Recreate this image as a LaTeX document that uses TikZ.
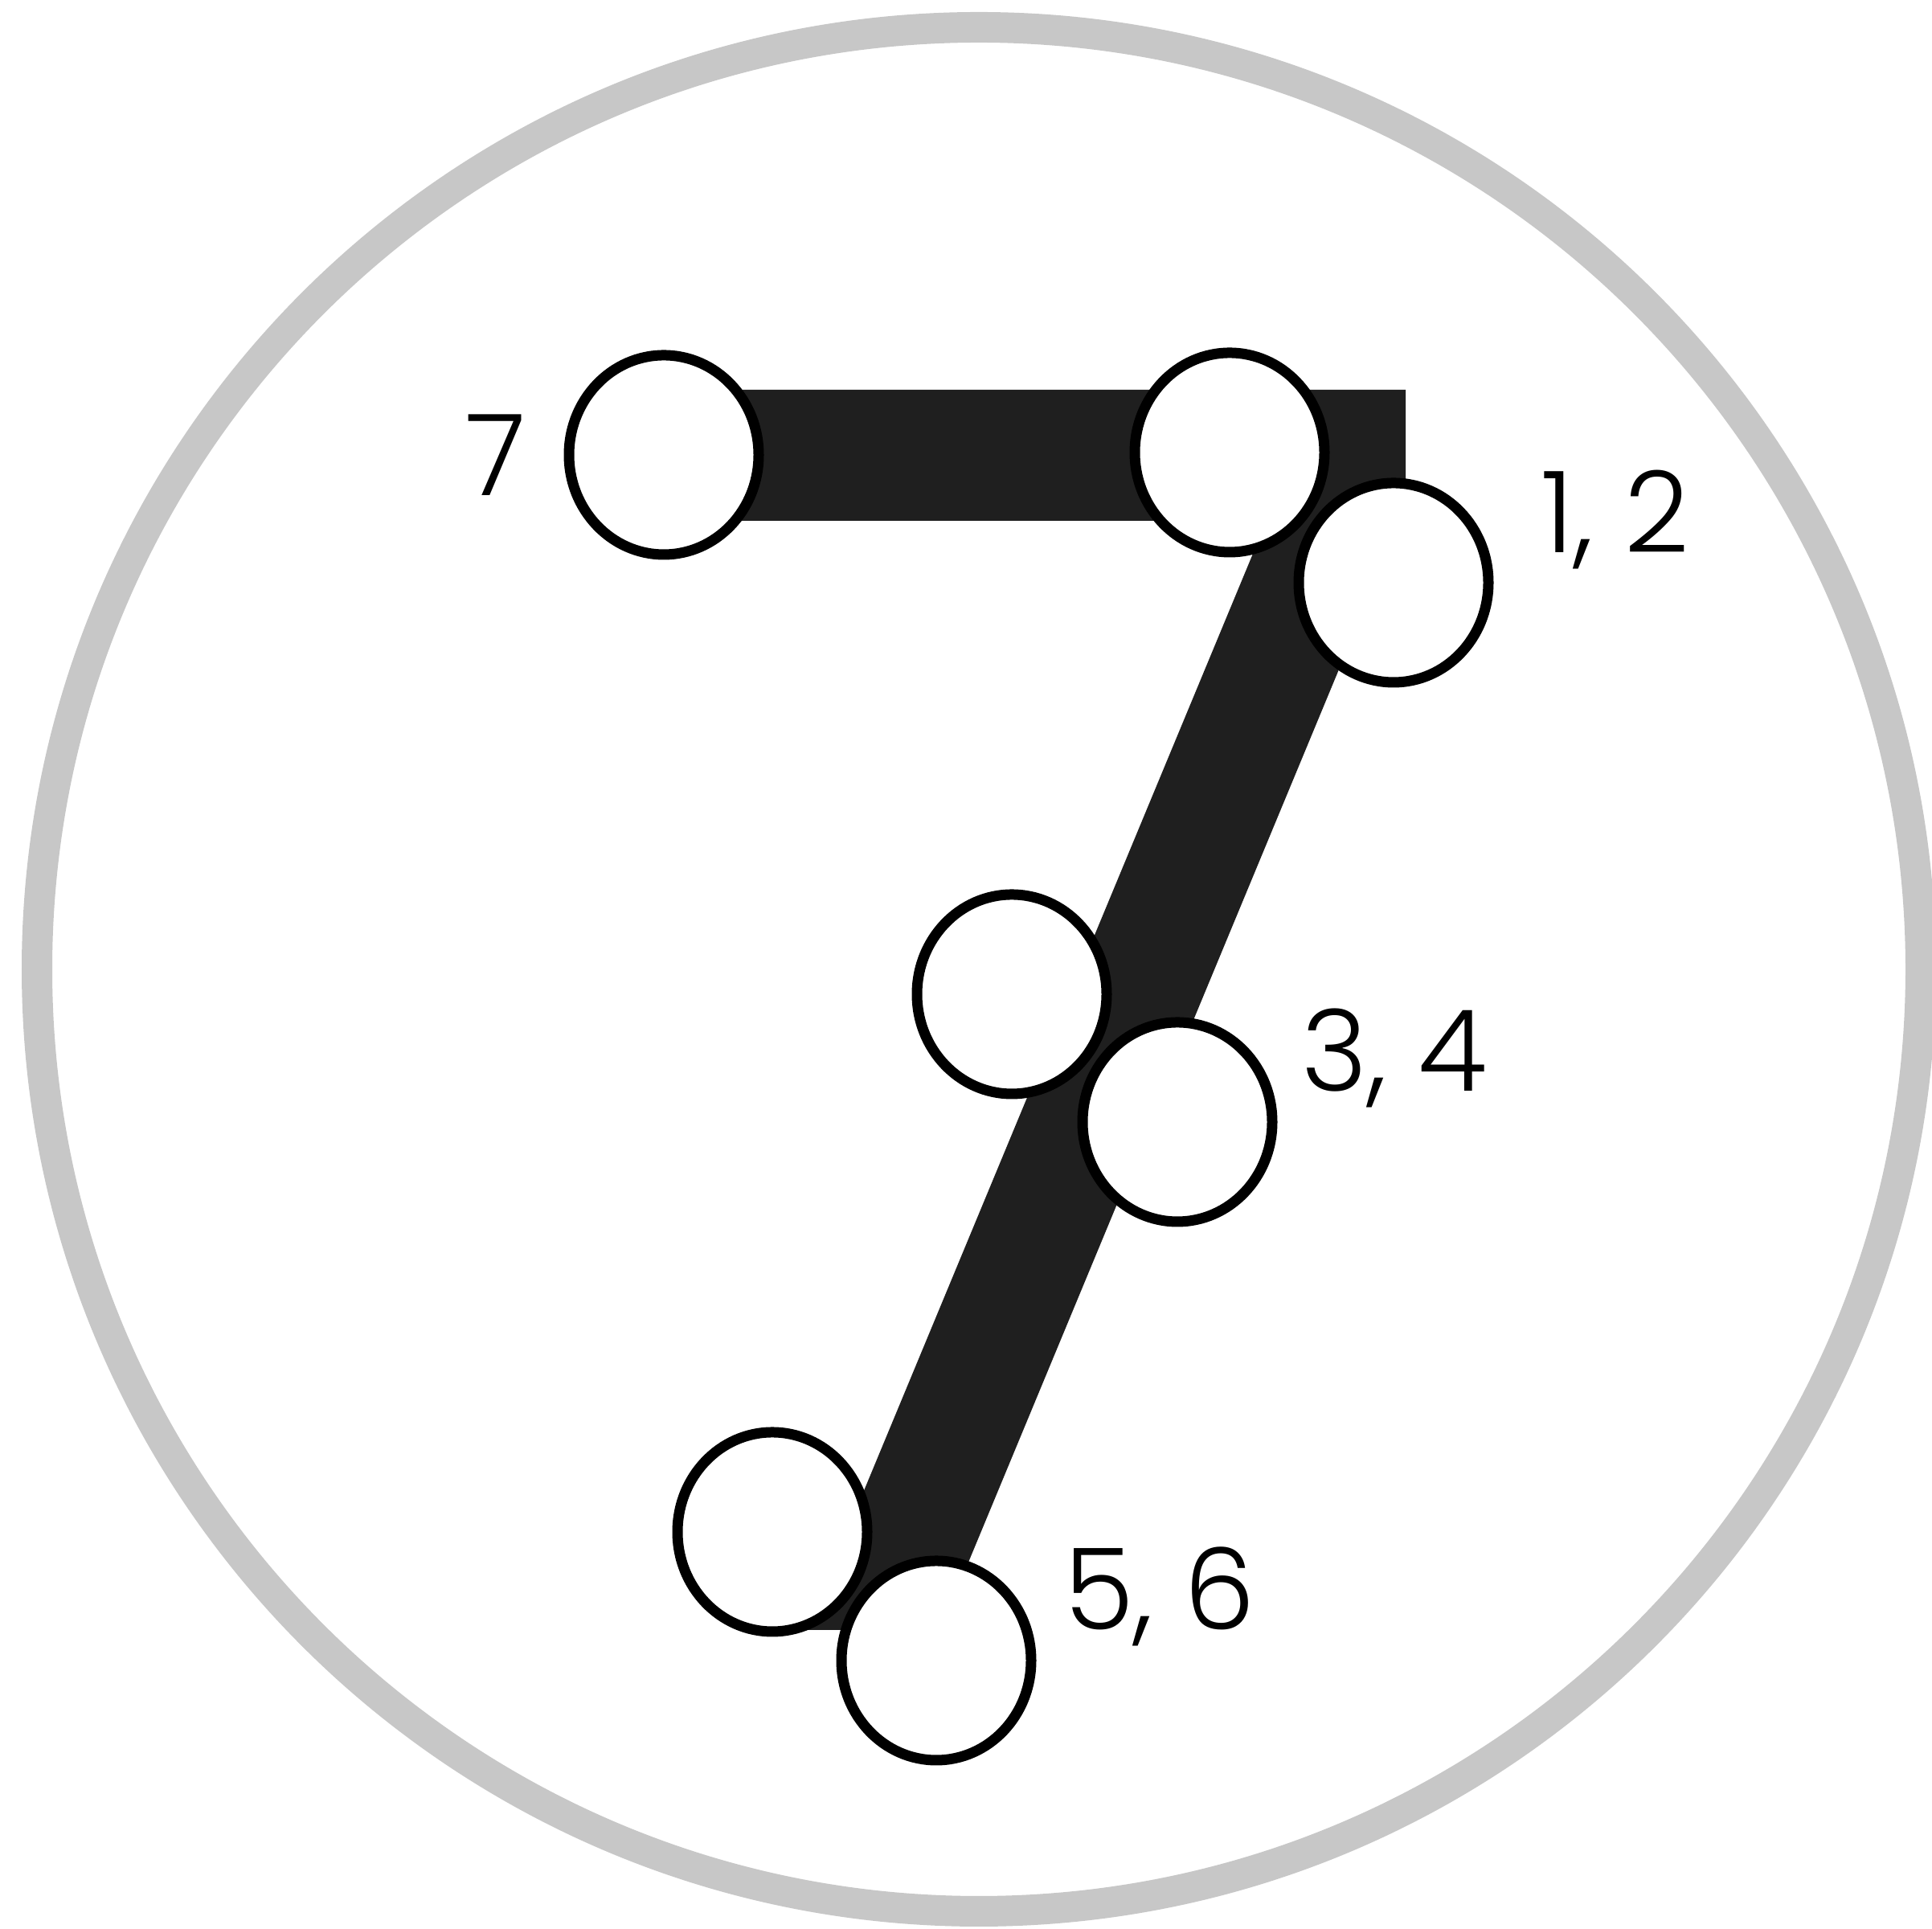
\documentclass[tikz,border=0pt]{standalone}
\usepackage{fontspec}
\setmainfont{Poppins}[UprightFont=* Light]
\usetikzlibrary{shapes.geometric}

\begin{document}
\begin{tikzpicture}[
    rim/.style={draw=black!22, line width=3.8mm},
    stroke/.style={fill=black!88},
    dot/.style={ellipse, draw=black, fill=white, line width=1.3mm, minimum width=2.36cm, minimum height=2.48cm, inner sep=0pt},
    num/.style={anchor=base, font=\fontsize{40}{44}\selectfont, inner sep=0pt}
]
\useasboundingbox (0,0) rectangle (24.04,24);

% outer ring
\draw[rim] (12.18,11.94) circle (11.72);

% the stroke of the seven
\fill[stroke] (8.26,19.15) -- (17.49,19.15) -- (17.49,17.67) -- (11.70,3.72)
    -- (10.03,3.72) -- (15.76,17.52) -- (8.26,17.52) -- cycle;

% positions along the stroke
\node[dot] (pos7) at (8.26,18.34) {};
\node[dot] (pos1) at (15.30,18.37) {};
\node[dot] (pos2) at (17.34,16.75) {};
\node[dot] (pos3) at (12.59,11.63) {};
\node[dot] (pos4) at (14.65,10.04) {};
\node[dot] (pos5) at (9.61,4.94) {};
\node[dot] (pos6) at (11.65,3.34) {};

% numbers
\node[num] (lab7) at (6.17,17.83) {7};
\node[num] (lab12) at (20.10,17.12) {1, 2};
\node[num] (lab34) at (17.35,10.42) {3, 4};
\node[num] (lab56) at (14.43,3.72) {5, 6};

\end{tikzpicture}
\end{document}
